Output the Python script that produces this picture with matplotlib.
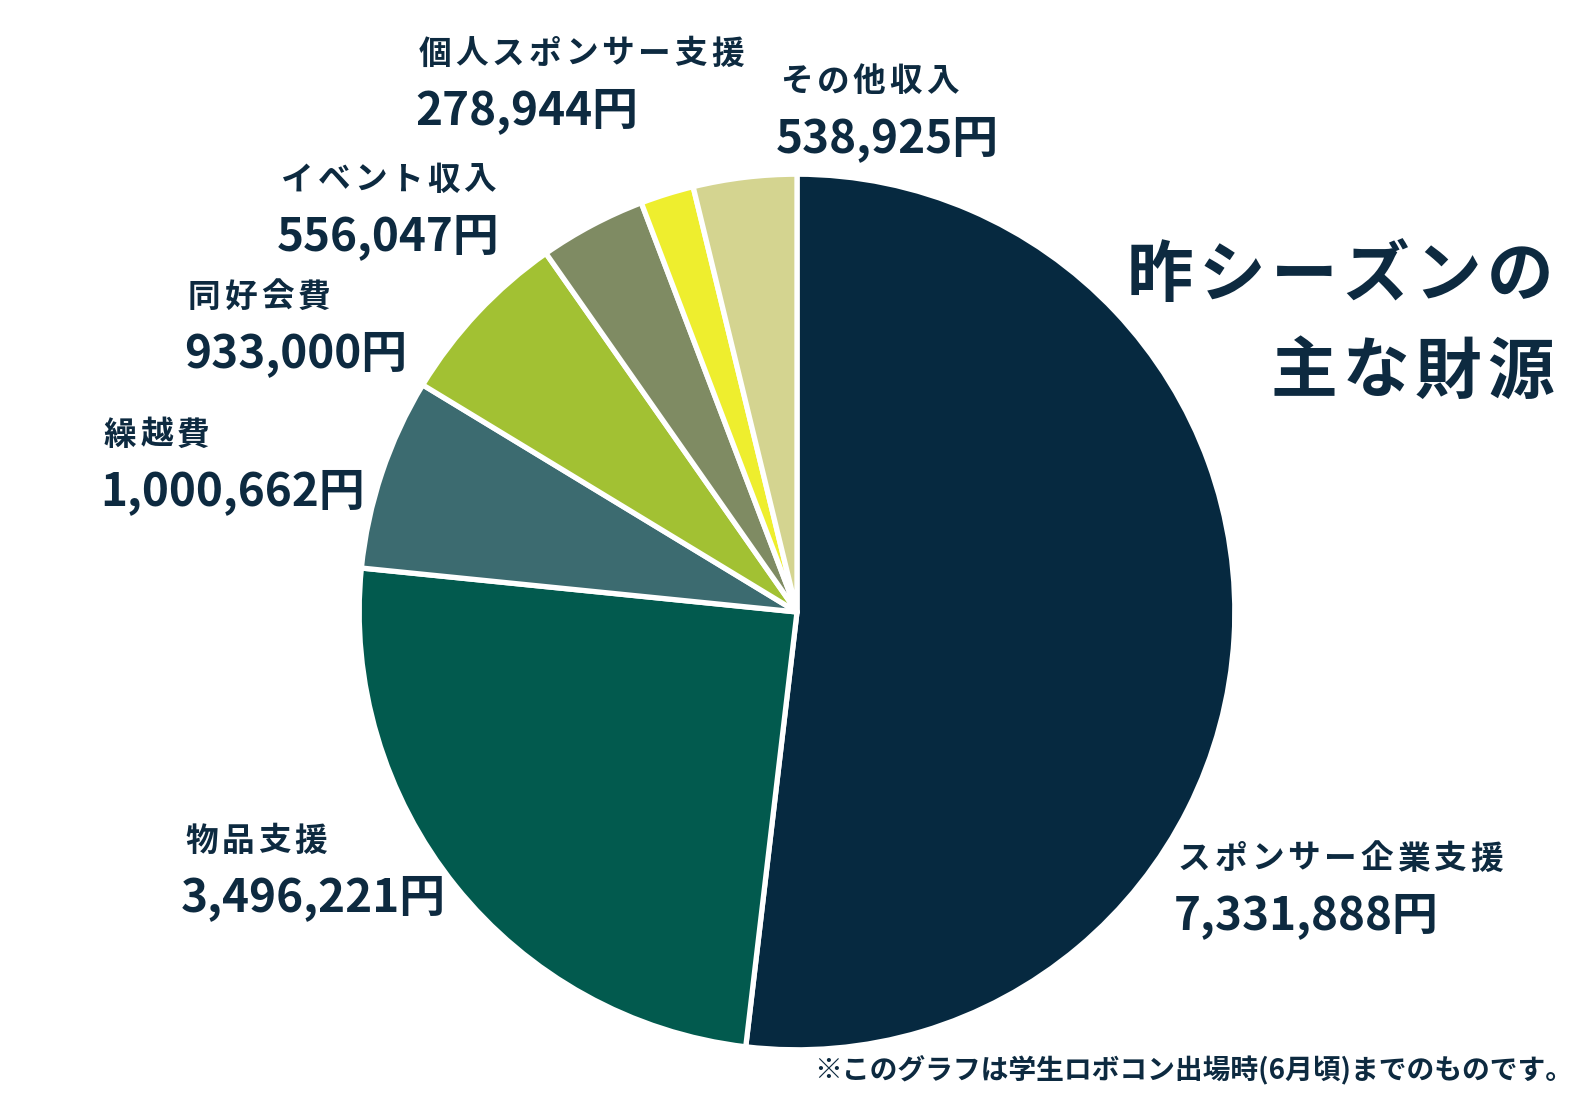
import matplotlib
matplotlib.use('Agg')
import matplotlib.pyplot as plt

plt.rcParams['font.family'] = ['Noto Sans CJK JP', 'DejaVu Sans']

# data
categories = ['スポンサー企業支援', '物品支援', '繰越費', '同好会費',
              'イベント収入', '個人スポンサー支援', 'その他収入']
amounts = [7331888, 3496221, 1000662, 933000, 556047, 278944, 538925]
colors = ['#062940', '#025a4e', '#3c6b70', '#a2c133',
          '#7f8b63', '#eeee2e', '#d4d490']
title_lines = ['昨シーズンの', '主な財源']
note = '※このグラフは学生ロボコン出場時(6月頃)までのものです。'

# label anchor (left edge, centre of name line) in pixels of the 1593x1104 image
label_pos = {
    'スポンサー企業支援': (1176, 859),
    '物品支援': (183, 841),
    '繰越費': (102, 435),
    '同好会費': (186, 297),
    'イベント収入': (279, 180),
    '個人スポンサー支援': (417, 54),
    'その他収入': (778, 82),
}

W, H = 1593, 1104
TXT = '#0d2a40'

fig = plt.figure(figsize=(W / 100, H / 100), dpi=100)
fig.patch.set_facecolor('white')

cx, cy, r = 797, 612, 440
ax = fig.add_axes([(cx - r) / W, 1 - (cy + r) / H, 2 * r / W, 2 * r / H])
ax.pie(amounts, colors=colors, startangle=90, counterclock=False,
       wedgeprops=dict(edgecolor='white', linewidth=3.8, joinstyle='round'))
ax.set_aspect('equal')
ax.set_xlim(-1.005, 1.005)
ax.set_ylim(-1.005, 1.005)
ax.axis('off')


def px(x, y):
    return x / W, 1 - y / H


def spaced(x0, y, s, pitch, **kw):
    # full-width characters placed on a fixed pitch (letter spacing)
    for i, ch in enumerate(s):
        fig.text(*px(x0 + (i + 0.5) * pitch, y), ch, ha='center', va='center', **kw)


for name, val in zip(categories, amounts):
    x, y = label_pos[name]
    spaced(x, y, name, 36.5, fontsize=23.5, fontweight='bold', color=TXT)
    fig.text(*px(x - 2, y + 57), f'{val:,}円', fontsize=33, fontweight='bold',
             color=TXT, ha='left', va='center')

pitch = 72
spaced(1556 - pitch * len(title_lines[0]), 277, title_lines[0], pitch,
       fontsize=48, fontweight='bold', color=TXT)
spaced(1556 - pitch * len(title_lines[1]), 373, title_lines[1], pitch,
       fontsize=48, fontweight='bold', color=TXT)

fig.text(*px(1573, 1070), note,
         fontsize=20, fontweight='bold', color=TXT, ha='right', va='center')

fig.savefig('out.png', dpi=100, facecolor='white')
